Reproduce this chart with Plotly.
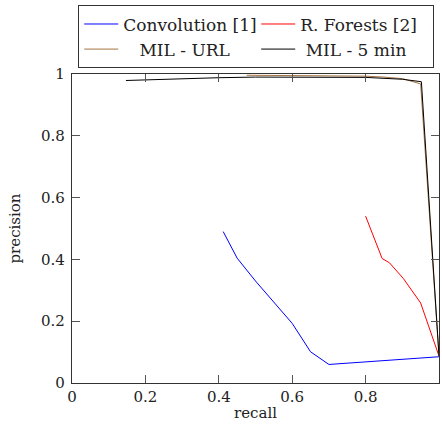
import plotly.graph_objects as go

conv_recall = [0.412, 0.45, 0.50, 0.55, 0.60, 0.65, 0.70, 1.0]
conv_prec = [0.49, 0.404, 0.33, 0.262, 0.193, 0.101, 0.06, 0.085]

rf_recall = [0.80, 0.845, 0.865, 0.903, 0.95, 1.0]
rf_prec = [0.54, 0.403, 0.389, 0.338, 0.259, 0.087]

url_recall = [0.476, 0.6, 0.7, 0.8, 0.85, 0.9, 0.95, 1.0]
url_prec = [0.996, 0.995, 0.994, 0.993, 0.99, 0.985, 0.968, 0.087]

min5_recall = [0.147, 0.2, 0.3, 0.4, 0.5, 0.6, 0.7, 0.8, 0.9, 0.952, 1.0]
min5_prec = [0.979, 0.981, 0.985, 0.988, 0.99, 0.99, 0.99, 0.989, 0.983, 0.975, 0.087]

series_names = ["Convolution [1]", "R. Forests [2]",
                "\u00a0\u00a0\u00a0MIL - URL", "\u00a0MIL - 5 min"]

tick_vals = [0, 0.2, 0.4, 0.6, 0.8, 1]
tick_text = ["0", "0.2", "0.4", "0.6", "0.8", "1"]

FONT = "DejaVu Serif"

fig = go.Figure()
series = [
    (series_names[0], conv_recall, conv_prec, "rgb(0,0,255)"),
    (series_names[1], rf_recall, rf_prec, "rgb(255,0,0)"),
    (series_names[2], url_recall, url_prec, "rgb(165,115,65)"),
    (series_names[3], min5_recall, min5_prec, "rgb(0,0,0)"),
]
for name, x, y, c in series:
    fig.add_trace(go.Scatter(x=x, y=y, mode="lines", name=name,
                             line=dict(color=c, width=1)))

axis_common = dict(
    range=[0, 1], tickvals=tick_vals, ticktext=tick_text,
    ticks="inside", ticklen=8, tickcolor="#555", tickwidth=1,
    showline=True, linecolor="#333", linewidth=1.2, mirror="allticks",
    showgrid=False, zeroline=False, automargin=False,
    tickfont=dict(family=FONT, size=15, color="#222"),
)
fig.update_xaxes(**axis_common, title=dict(text="recall", standoff=2,
                 font=dict(family=FONT, size=15, color="#222")))
fig.update_yaxes(**axis_common, ticklabelstandoff=3,
                 title=dict(text="precision", standoff=16,
                 font=dict(family=FONT, size=15, color="#222")))

fig.update_layout(
    width=442, height=432,
    margin=dict(l=72, r=3, t=74, b=49, autoexpand=False),
    plot_bgcolor="white", paper_bgcolor="white",
    font=dict(family=FONT, size=15, color="#222"),
    legend=dict(orientation="h", x=0.502, xanchor="center", y=1.018, yanchor="bottom",
                bordercolor="#333", borderwidth=1, bgcolor="white",
                entrywidth=128, itemwidth=34, tracegroupgap=0,
                font=dict(family=FONT, size=17, color="#222")),
    showlegend=True,
)

fig.write_html("out.html", config={"displayModeBar": False},
               post_script="document.body.style.margin='0';")
